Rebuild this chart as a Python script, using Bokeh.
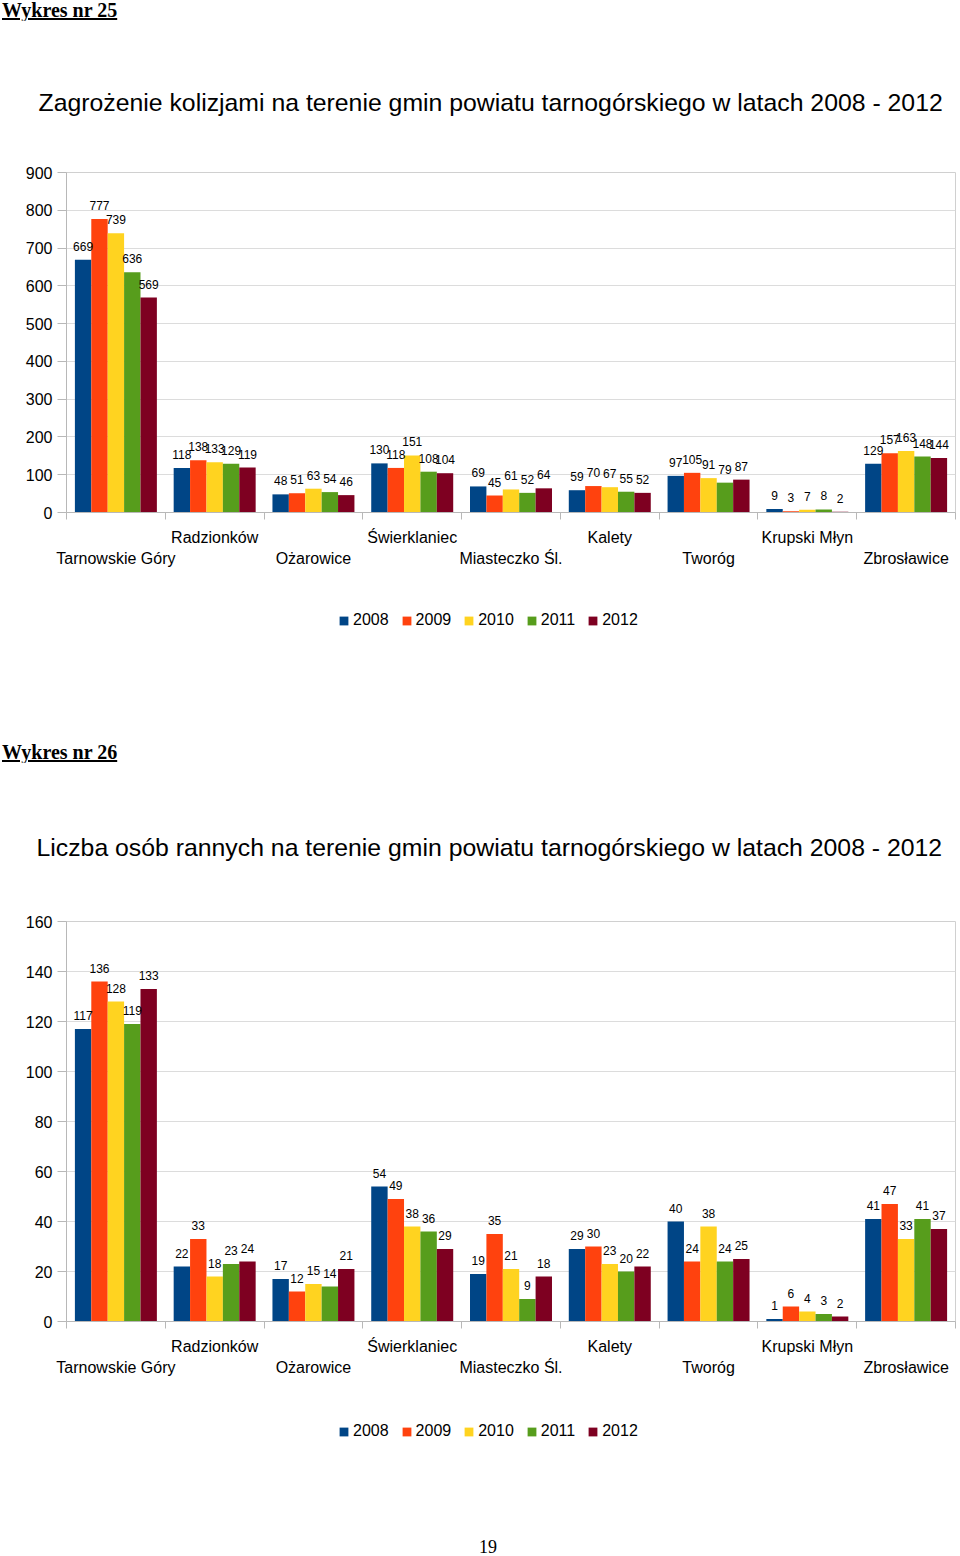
from bokeh.plotting import figure
from bokeh.models import (ColumnDataSource, FixedTicker, LinearAxis, Legend, LegendItem,
                          LabelSet, Range1d, Div, Title)
from bokeh.layouts import column
from bokeh.transform import dodge
from bokeh.core.properties import value
from bokeh.embed import file_html
from bokeh.resources import INLINE

# ---------------- data ----------------
categories = ["Tarnowskie Góry", "Radzionków", "Ożarowice", "Świerklaniec",
              "Miasteczko Śl.", "Kalety", "Tworóg", "Krupski Młyn", "Zbrosławice"]
years = ["2008", "2009", "2010", "2011", "2012"]
colors = ["#004586", "#ff420e", "#ffd320", "#579d1c", "#7e0021"]

kolizje_2008 = [669, 118, 48, 130, 69, 59, 97, 9, 129]
kolizje_2009 = [777, 138, 51, 118, 45, 70, 105, 3, 157]
kolizje_2010 = [739, 133, 63, 151, 61, 67, 91, 7, 163]
kolizje_2011 = [636, 129, 54, 108, 52, 55, 79, 8, 148]
kolizje_2012 = [569, 119, 46, 104, 64, 52, 87, 2, 144]

ranni_2008 = [117, 22, 17, 54, 19, 29, 40, 1, 41]
ranni_2009 = [136, 33, 12, 49, 35, 30, 24, 6, 47]
ranni_2010 = [128, 18, 15, 38, 21, 23, 38, 4, 33]
ranni_2011 = [119, 23, 14, 36, 9, 20, 24, 3, 41]
ranni_2012 = [133, 24, 21, 29, 18, 22, 25, 2, 37]

title_25 = "Zagrożenie kolizjami na terenie gmin powiatu tarnogórskiego w latach 2008 - 2012"
title_26 = "Liczba osób rannych na terenie gmin powiatu tarnogórskiego w latach 2008 - 2012"
heading_25 = "Wykres nr 25"
heading_26 = "Wykres nr 26"
page_number = "19"

FONT = "Liberation Sans"
PAGE_W = 960


def make_source(series):
    data = {"x": list(range(len(categories)))}
    for y, vals in zip(years, series):
        data["v" + y] = vals
        data["t" + y] = [str(v) for v in vals]
    return ColumnDataSource(data)


def build_chart(src, ymax, ystep, fig_h, page_top, frame_top, frame_bot,
                frame_left, frame_right, title, title_left, title_standoff):
    n = len(categories)
    p = figure(width=PAGE_W, height=fig_h,
               x_range=Range1d(-0.5, n - 0.5), y_range=Range1d(0, ymax),
               output_backend="svg", toolbar_location=None,
               x_axis_location=None, y_axis_location="left",
               min_border_left=frame_left, min_border_right=PAGE_W - frame_right,
               min_border_top=frame_top - page_top,
               min_border_bottom=page_top + fig_h - frame_bot)
    p.background_fill_color = "white"
    p.border_fill_color = "white"
    p.outline_line_color = "#d0d0d0"

    # title
    p.add_layout(Title(text=title, align="left", offset=title_left - frame_left,
                       standoff=title_standoff, text_font=FONT, text_font_size="24.8px",
                       text_font_style="normal", text_color="#000000"), "above")

    # y axis
    yt = list(range(0, ymax + 1, ystep))
    ya = p.yaxis[0]
    ya.ticker = FixedTicker(ticks=yt)
    ya.axis_line_color = "#b8b8b8"
    ya.major_tick_line_color = "#b8b8b8"
    ya.major_tick_out = 9
    ya.major_tick_in = 0
    ya.minor_tick_line_color = None
    ya.major_label_standoff = 5
    ya.major_label_text_font = FONT
    ya.major_label_text_font_size = "16px"
    ya.major_label_text_color = "#000000"
    p.ygrid.ticker = FixedTicker(ticks=yt)
    p.ygrid.grid_line_color = "#dcdcdc"
    p.xgrid.visible = False

    # category axes (staggered labels)
    odd = list(range(1, n, 2))
    even = list(range(0, n, 2))
    ax1 = LinearAxis(ticker=FixedTicker(ticks=odd, minor_ticks=[i - 0.5 for i in range(n + 1)]),
                     major_label_overrides={i: categories[i] for i in odd})
    ax1.axis_line_color = "#b8b8b8"
    ax1.major_tick_line_color = None
    ax1.major_tick_out = 0
    ax1.major_tick_in = 0
    ax1.minor_tick_line_color = "#b8b8b8"
    ax1.minor_tick_out = 7
    ax1.minor_tick_in = 0
    ax1.major_label_standoff = 9
    ax2 = LinearAxis(ticker=FixedTicker(ticks=even, minor_ticks=[]),
                     major_label_overrides={i: categories[i] for i in even})
    ax2.axis_line_color = None
    ax2.major_tick_line_color = None
    ax2.minor_tick_line_color = None
    ax2.major_tick_out = 0
    ax2.major_tick_in = 0
    ax2.major_label_standoff = 1
    for ax in (ax1, ax2):
        ax.major_label_text_font = FONT
        ax.major_label_text_font_size = "16px"
        ax.major_label_text_color = "#000000"
        ax.major_label_orientation = "horizontal"
    p.add_layout(ax1, "below")
    p.add_layout(ax2, "below")

    # bars + value labels
    bw = 0.166
    for k, (y, c) in enumerate(zip(years, colors)):
        off = (k - 2) * bw
        p.vbar(x=dodge("x", off, range=p.x_range), top="v" + y, width=bw,
               source=src, fill_color=c, line_color=None)
        ls = LabelSet(x=dodge("x", off, range=p.x_range), y="v" + y, text="t" + y,
                      source=src, text_align="center", text_baseline="bottom",
                      y_offset=9, text_font=value(FONT), text_font_size=value("12px"),
                      text_color="#000000")
        p.add_layout(ls)
    return p


def build_legend(src, ymax, fig_h, left, bottom):
    # legend-only strip under the chart; its swatches come from the same series,
    # drawn with zero height so that only the legend itself shows
    n = len(categories)
    q = figure(width=PAGE_W, height=fig_h, x_range=Range1d(-0.5, n - 0.5),
               y_range=Range1d(0, ymax),
               output_backend="svg", toolbar_location=None,
               x_axis_location=None, y_axis_location=None, min_border=0)
    q.outline_line_color = None
    q.background_fill_color = "white"
    q.border_fill_color = "white"
    q.grid.visible = False
    items = []
    for y, c in zip(years, colors):
        r = q.vbar(x="x", top="v" + y, bottom="v" + y, width=0.166, source=src,
                   fill_color=c, line_color=None)
        items.append(LegendItem(label=y, renderers=[r]))
    leg = Legend(items=items, orientation="horizontal", location=(left, bottom),
                 glyph_width=11, glyph_height=11, label_standoff=4, spacing=12,
                 padding=0, margin=0, label_height=10,
                 label_text_font=FONT, label_text_font_size="16px",
                 label_text_color="#000000", border_line_color=None,
                 background_fill_alpha=0)
    q.add_layout(leg, "center")
    return q


def heading(txt):
    return Div(text=('<div style="font-family:\'Liberation Serif\';font-weight:bold;'
                     'font-size:20px;line-height:20px;text-decoration:underline;'
                     'white-space:nowrap;margin-left:2px;">%s</div>') % txt,
               width=300, height=20, margin=0)


src1 = make_source([kolizje_2008, kolizje_2009, kolizje_2010, kolizje_2011, kolizje_2012])
src2 = make_source([ranni_2008, ranni_2009, ranni_2010, ranni_2011, ranni_2012])

h1 = heading(heading_25)
fig1 = build_chart(src1, 900, 100, 580, 20, 172, 512, 66, 955, title_25, 38, 114)
leg1 = build_legend(src1, 900, 142, 338 - 66, 113)
h2 = heading(heading_26)
fig2 = build_chart(src2, 160, 20, 628, 762, 921, 1321, 64, 958, title_26, 34, 122)
leg2 = build_legend(src2, 160, 140, 338 - 66, 90)
foot = Div(text=('<div style="font-family:\'Liberation Serif\';font-size:18px;line-height:18px;'
                 'text-align:center;padding-top:8px;width:976px;">%s</div>') % page_number,
           width=960, height=26, margin=0)

page = column(h1, fig1, leg1, h2, fig2, leg2, foot, spacing=0)
open("out.html", "w").write(file_html(page, INLINE))
